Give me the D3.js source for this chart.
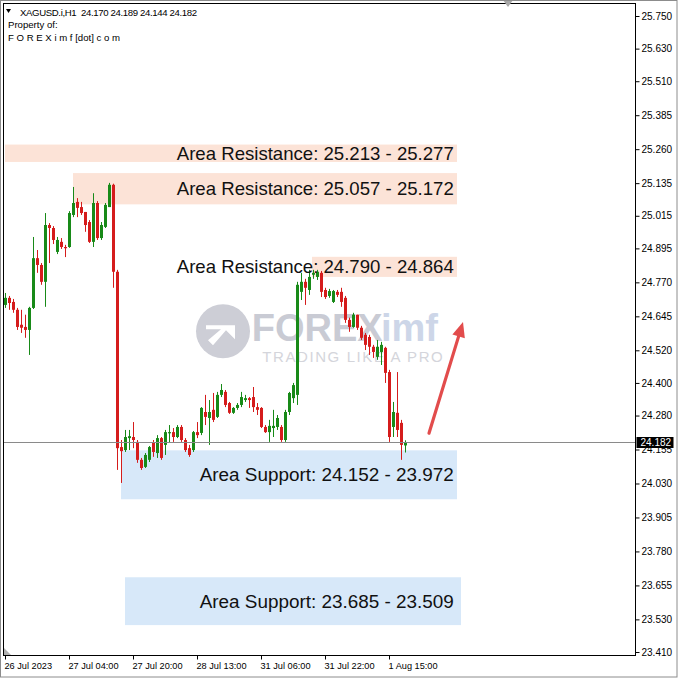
<!DOCTYPE html>
<html><head><meta charset="utf-8">
<script src="https://cdn.jsdelivr.net/npm/d3@7"></script>
<style>html,body{margin:0;padding:0;background:#fff}svg{display:block}</style>
</head><body>
<script>
// ---------- data ----------
const symbolName = "XAGUSD.i,H1";
const headerOHLC = ["24.170", "24.189", "24.144", "24.182"];
const propertyLines = ["Property of:", "F O R E X i m f [dot] c o m"];

const opens = [24.687,24.713,24.698,24.669,24.614,24.606,24.595,24.676,24.859,24.834,
24.772,24.981,24.970,24.882,24.919,24.900,24.900,25.018,25.066,25.047,
25.029,24.992,24.919,25.062,24.933,24.974,25.047,25.129,24.809,24.164,
24.153,24.197,24.201,24.183,24.117,24.091,24.117,24.179,24.142,24.197,
24.172,24.216,24.219,24.201,24.238,24.190,24.160,24.153,24.219,24.216,
24.293,24.271,24.301,24.275,24.356,24.367,24.326,24.290,24.308,24.319,
24.337,24.344,24.348,24.311,24.308,24.238,24.219,24.234,24.238,24.238,
24.190,24.293,24.344,24.356,24.735,24.772,24.742,24.798,24.790,24.805,
24.742,24.720,24.698,24.735,24.735,24.713,24.632,24.606,24.651,24.603,
24.577,24.569,24.533,24.496,24.514,24.529,24.440,24.238,24.290,24.253,
24.170];
const highs = [24.731,24.720,24.709,24.676,24.669,24.651,24.680,24.937,24.889,24.841,
25.025,24.988,24.977,24.937,24.933,24.908,25.032,25.121,25.080,25.066,
25.029,24.999,25.098,25.069,24.992,25.062,25.136,25.133,24.816,24.190,
24.227,24.227,24.256,24.190,24.124,24.142,24.168,24.190,24.208,24.201,
24.227,24.245,24.234,24.245,24.245,24.197,24.172,24.223,24.256,24.311,
24.356,24.337,24.363,24.367,24.396,24.374,24.330,24.311,24.326,24.367,
24.356,24.348,24.385,24.326,24.311,24.245,24.264,24.301,24.282,24.245,
24.301,24.367,24.400,24.772,24.805,24.783,24.816,24.816,24.816,24.812,
24.750,24.746,24.742,24.742,24.750,24.720,24.640,24.658,24.651,24.610,
24.584,24.577,24.540,24.558,24.551,24.533,24.448,24.330,24.440,24.264,
24.189];
const lows = [24.676,24.669,24.658,24.595,24.584,24.566,24.503,24.672,24.805,24.761,
24.680,24.841,24.911,24.874,24.893,24.863,24.897,25.010,25.010,25.018,
24.956,24.915,24.900,24.926,24.926,24.970,25.047,24.750,24.080,24.032,
24.146,24.153,24.160,24.106,24.080,24.087,24.109,24.128,24.124,24.117,
24.135,24.179,24.183,24.197,24.183,24.146,24.128,24.146,24.197,24.208,
24.245,24.172,24.256,24.271,24.348,24.311,24.286,24.286,24.301,24.311,
24.330,24.308,24.293,24.282,24.234,24.216,24.183,24.201,24.227,24.183,
24.183,24.282,24.326,24.319,24.705,24.687,24.724,24.783,24.779,24.716,
24.709,24.713,24.694,24.716,24.680,24.621,24.588,24.603,24.595,24.558,
24.521,24.503,24.492,24.485,24.466,24.400,24.183,24.201,24.201,24.117,
24.144];
const closes = [24.713,24.694,24.669,24.606,24.603,24.595,24.676,24.859,24.834,24.772,
24.981,24.970,24.926,24.926,24.900,24.897,25.025,25.062,25.044,25.025,
24.981,24.919,25.062,24.933,24.981,25.055,25.129,24.809,24.160,24.149,
24.201,24.204,24.190,24.117,24.087,24.135,24.164,24.146,24.197,24.124,
24.219,24.219,24.201,24.238,24.190,24.153,24.135,24.219,24.208,24.308,
24.275,24.293,24.264,24.356,24.374,24.319,24.290,24.308,24.319,24.348,
24.344,24.337,24.311,24.301,24.238,24.219,24.242,24.242,24.271,24.190,
24.293,24.363,24.392,24.761,24.772,24.750,24.790,24.805,24.809,24.735,
24.716,24.738,24.738,24.724,24.698,24.632,24.606,24.651,24.603,24.566,
24.540,24.533,24.514,24.533,24.540,24.437,24.201,24.293,24.227,24.172,
24.182];

const priceTicks = [25.750,25.630,25.510,25.385,25.260,25.135,25.015,24.895,24.770,24.645,
24.520,24.400,24.280,24.155,24.030,23.905,23.780,23.655,23.530,23.410];
const timeTickBars = [0, 16, 32, 48, 64, 80, 96];
const timeTickLabels = ["26 Jul 2023","27 Jul 04:00","27 Jul 20:00","28 Jul 13:00","31 Jul 06:00","31 Jul 22:00","1 Aug 15:00"];

const zoneKinds  = ["res","res","res","sup","sup"];
const zoneLow    = [25.213, 25.057, 24.790, 23.972, 23.509];
const zoneHigh   = [25.277, 25.172, 24.864, 24.152, 23.685];
const zoneStart  = [0, 17, 76.75, 29, 30];
const zoneEnd    = [113, 113, 113, 113, 114];
const zoneLabels = ["Area Resistance: 25.213 - 25.277","Area Resistance: 25.057 - 25.172",
  "Area Resistance: 24.790 - 24.864","Area Support: 24.152 - 23.972","Area Support: 23.685 - 23.509"];

const currentPrice = 24.182;
const arrowFrom = {bar: 106, price: 24.215};
const arrowTo   = {bar: 114.5, price: 24.624};

// ---------- drawing ----------
const W = 678, H = 678;
const plot = {left: 3.5, top: 3.5, right: 635.5, bottom: 655.5};
const FONT = "'Liberation Sans', Arial, sans-serif";
const GREEN = "#188a18", RED = "#d51c1c";

const svg = d3.select("body").append("svg").attr("width", W).attr("height", H)
  .style("font-family", FONT);
svg.append("rect").attr("width", W).attr("height", H).attr("fill", "#fff");

const x = d3.scaleLinear().domain([0, 100]).range([5, 405]);
const y = d3.scaleLinear().domain([23.410, 25.750]).range([652, 16]);

svg.append("clipPath").attr("id", "pc").append("rect")
  .attr("x", plot.left).attr("y", plot.top)
  .attr("width", plot.right - plot.left).attr("height", plot.bottom - plot.top);
const g = svg.append("g").attr("clip-path", "url(#pc)");

// watermark
const wm = g.append("g");
const cxL = x(54.5), cyL = y(24.59);
wm.append("circle").attr("cx", cxL).attr("cy", cyL).attr("r", 27).attr("fill", "#cdced6");
wm.append("path")
  .attr("d", `M${cxL-17},${cyL-6} L${cxL+12},${cyL-6} L${cxL+12},${cyL+8} L${cxL+3},${cyL-1} L${cxL-10},${cyL+14} L${cxL-15},${cyL+9} L${cxL-2},${cyL-2} L${cxL-17},${cyL-2} Z`)
  .attr("fill", "#fff");
wm.append("text").attr("x", x(61.7)).attr("y", y(24.555)).attr("font-size", 38).attr("font-weight", "bold")
  .attr("fill", "#c9cbd4").text("FOREX");
wm.append("text").attr("x", x(94)).attr("y", y(24.555)).attr("font-size", 38).attr("font-weight", "bold")
  .attr("fill", "#cdd6e8").text("imf");
wm.append("text").attr("x", x(64.3)).attr("y", y(24.477)).attr("font-size", 15)
  .attr("letter-spacing", 1.6).attr("fill", "#d4d5db").text("TRADING LIKE A PRO");

// zones
const zones = zoneKinds.map((k, i) => ({k, lo: zoneLow[i], hi: zoneHigh[i], s: zoneStart[i], e: zoneEnd[i], label: zoneLabels[i]}));
g.selectAll("rect.zone").data(zones).enter().append("rect").attr("class", "zone")
  .attr("x", d => x(d.s)).attr("width", d => x(d.e) - x(d.s))
  .attr("y", d => y(d.hi)).attr("height", d => y(d.lo) - y(d.hi))
  .attr("fill", d => d.k === "res" ? "#fce3d7" : "#d7e8f9");

// candles
const bars = opens.map((o, i) => ({i, o, h: highs[i], l: lows[i], c: closes[i]}));
const cg = g.append("g");
cg.selectAll("line.wick").data(bars).enter().append("line")
  .attr("x1", d => Math.round(x(d.i)) + 0.5).attr("x2", d => Math.round(x(d.i)) + 0.5)
  .attr("y1", d => y(d.h)).attr("y2", d => y(d.l))
  .attr("stroke", d => d.c >= d.o ? GREEN : RED).attr("stroke-width", 1);
cg.selectAll("rect.body").data(bars).enter().append("rect")
  .attr("x", d => Math.round(x(d.i)) - 1).attr("width", 3)
  .attr("y", d => y(Math.max(d.o, d.c)))
  .attr("height", d => Math.max(1.2, Math.abs(y(d.o) - y(d.c))))
  .attr("fill", d => d.c >= d.o ? GREEN : RED);

// zone labels
g.selectAll("text.zl").data(zones).enter().append("text")
  .attr("x", x(112.2)).attr("y", d => (y(d.hi) + y(d.lo)) / 2 + 6.6)
  .attr("text-anchor", "end").attr("font-size", d => d.k === "res" ? 18.6 : 18.9).attr("fill", "#111")
  .text(d => d.label);

// current price line
g.append("line").attr("x1", plot.left).attr("x2", plot.right)
  .attr("y1", Math.round(y(currentPrice)) + 0.5).attr("y2", Math.round(y(currentPrice)) + 0.5)
  .attr("stroke", "#8a8a8a").attr("stroke-width", 1);

// arrow
const ax1 = x(arrowFrom.bar), ay1 = y(arrowFrom.price), ax2 = x(arrowTo.bar), ay2 = y(arrowTo.price);
const ang = Math.atan2(ay2 - ay1, ax2 - ax1);
const headL = 15, headW = 6.5;
const bx = ax2 - headL * Math.cos(ang), by = ay2 - headL * Math.sin(ang);
g.append("line").attr("x1", ax1).attr("y1", ay1).attr("x2", bx).attr("y2", by)
  .attr("stroke", "#e24c4c").attr("stroke-width", 3.2).attr("stroke-linecap", "round");
g.append("path").attr("d", `M${ax2},${ay2} L${bx + headW*Math.sin(ang)},${by - headW*Math.cos(ang)} L${bx - headW*Math.sin(ang)},${by + headW*Math.cos(ang)} Z`)
  .attr("fill", "#e24c4c");

// header text
const hdr = svg.append("g").attr("font-size", 9.6).attr("fill", "#000");
hdr.append("path").attr("d", "M6,9 L11,9 L8.5,13 Z").attr("fill", "#000");
hdr.append("text").attr("x", 20).attr("y", 15.5).attr("xml:space", "preserve")
  .attr("textLength", 177).attr("lengthAdjust", "spacing")
  .text(symbolName + "  " + headerOHLC.join(" "));
hdr.selectAll("text.pl").data(propertyLines).enter().append("text").attr("class", "pl")
  .attr("x", 8).attr("y", (d, i) => 28 + i * 12.5).text(d => d);

// frame
svg.append("rect").attr("x", plot.left).attr("y", plot.top)
  .attr("width", plot.right - plot.left).attr("height", plot.bottom - plot.top)
  .attr("fill", "none").attr("stroke", "#000").attr("stroke-width", 1);
svg.append("path").attr("d", "M503,0 L513,0 L508,7 Z").attr("fill", "#a8a8a8");
svg.append("path").attr("d", "M4,648 L4,655 L11,655 Z").attr("fill", "#b0b0b0");

// right axis
const ya = svg.append("g").attr("transform", `translate(${plot.right},0)`)
  .call(d3.axisRight(y).tickValues(priceTicks).tickFormat(d3.format(".3f")).tickSize(4).tickPadding(2));
ya.select(".domain").remove();
ya.selectAll("text").attr("font-size", 10).attr("font-family", FONT).attr("fill", "#000");
ya.selectAll("line").attr("stroke", "#000");

// bottom axis
const xa = svg.append("g").attr("transform", `translate(0,${plot.bottom})`)
  .call(d3.axisBottom(x).tickValues(timeTickBars).tickFormat((d, i) => timeTickLabels[i]).tickSize(4).tickPadding(3));
xa.select(".domain").remove();
xa.selectAll("text").attr("font-size", 9.2).attr("font-family", FONT).attr("fill", "#000")
  .attr("text-anchor", "start").attr("dx", -1);
xa.selectAll("line").attr("stroke", "#000");

// current price tag
const cpY = Math.round(y(currentPrice)) + 0.5;
svg.append("rect").attr("x", plot.right + 1).attr("y", cpY - 5.5).attr("width", 37).attr("height", 11).attr("fill", "#000");
svg.append("text").attr("x", plot.right + 5).attr("y", cpY).attr("dy", "0.35em")
  .attr("font-size", 10).attr("fill", "#fff").text(d3.format(".3f")(currentPrice));

// outer window border
svg.append("rect").attr("x", 0.5).attr("y", 0.5).attr("width", W - 1.5).attr("height", H - 1.5)
  .attr("fill", "none").attr("stroke", "#8c8c8c").attr("stroke-width", 1);
</script>
</body></html>
